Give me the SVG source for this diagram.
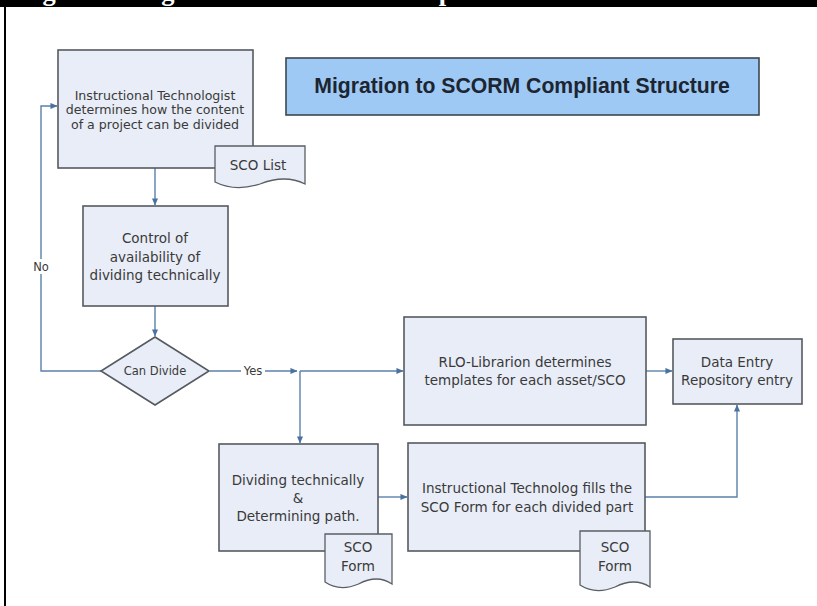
<svg xmlns="http://www.w3.org/2000/svg" width="817" height="606" viewBox="0 0 817 606">
  <style>
    .box { fill: #e8edf7; stroke: #555a60; stroke-width: 1.6; }
    .doc { fill: #e8edf7; stroke: #5a5f66; stroke-width: 1.3; }
    .title-box { fill: #9ec9f4; stroke: #3d4650; stroke-width: 1.6; }
    .lbl { font-family: "DejaVu Sans", Verdana, sans-serif; font-size: 13.5px; fill: #3a3a3a; text-anchor: middle; }
    .tight { font-size: 12.6px; }
    .small { font-size: 11.5px; }
    .title { font-family: "Liberation Sans", Arial, sans-serif; font-size: 21.2px; font-weight: bold; fill: #1c2530; text-anchor: middle; }
    .caption { font-family: "Liberation Serif", "Times New Roman", serif; font-size: 26.5px; font-weight: bold; fill: #ffffff; }
    .conn { fill: none; stroke: #5b80aa; stroke-width: 1.4; }
    .tag { fill: #ffffff; }
  </style>
  <defs>
    <marker id="arrow" viewBox="0 0 8 8" refX="7.5" refY="4" markerWidth="7" markerHeight="7" markerUnits="userSpaceOnUse" orient="auto">
      <path d="M0,0.5 L8,4 L0,7.5 z" fill="#4a72a0"/>
    </marker>
  </defs>

  <!-- page frame with caption bar -->
  <rect x="0" y="0" width="817" height="606" fill="#ffffff"/>
  <rect x="0" y="0" width="817" height="7" fill="#000000"/>
  <rect x="4" y="7" width="2" height="599" fill="#000000"/>
  <text class="caption" x="19" y="-0.5">Figure 1: Migration to SCORM Compliant Structure</text>

  <!-- connectors -->
  <g id="connectors">
    <path class="conn" d="M155,168 V205" marker-end="url(#arrow)"/>
    <path class="conn" d="M155,306 V336" marker-end="url(#arrow)"/>
    <path class="conn" d="M101,371 H41 V106 H57" marker-end="url(#arrow)"/>
    <path class="conn" d="M210,371 H297" marker-end="url(#arrow)"/>
    <path class="conn" d="M300,371 H403" marker-end="url(#arrow)"/>
    <path class="conn" d="M300,371 V443" marker-end="url(#arrow)"/>
    <path class="conn" d="M646,371 H672" marker-end="url(#arrow)"/>
    <path class="conn" d="M378,497 H407" marker-end="url(#arrow)"/>
    <path class="conn" d="M645,497 H737 V405" marker-end="url(#arrow)"/>
    <rect class="tag" x="31" y="259" width="20" height="15"/>
    <text class="lbl small" x="41" y="271">No</text>
    <rect class="tag" x="241" y="364" width="24" height="14"/>
    <text class="lbl small" x="253" y="375">Yes</text>
  </g>

  <!-- heading -->
  <g id="heading">
    <rect class="title-box" x="286" y="58" width="473" height="57"/>
    <text class="title" x="522" y="93">Migration to SCORM Compliant Structure</text>
  </g>

  <g id="determine-division">
    <rect class="box" x="58" y="50" width="195" height="118"/>
    <text class="lbl tight" x="155" y="99.5">Instructional Technologist</text>
    <text class="lbl tight" x="155" y="114">determines how the content</text>
    <text class="lbl tight" x="155" y="128.5">of a project can be divided</text>
  </g>

  <g id="sco-list">
    <path class="doc" d="M215,146 H305 V184 Q285.2,174 260,184 Q234.8,192 215,182 Z"/>
    <text class="lbl" x="258" y="170">SCO List</text>
  </g>

  <g id="control-availability">
    <rect class="box" x="83" y="206" width="145" height="100"/>
    <text class="lbl" x="155" y="243">Control of</text>
    <text class="lbl" x="155" y="262">availability of</text>
    <text class="lbl" x="155" y="280">dividing technically</text>
  </g>

  <g id="can-divide">
    <path class="box" d="M155,337 L209,371 L155,405 L101,371 Z"/>
    <text class="lbl small" x="155" y="375">Can Divide</text>
  </g>

  <g id="rlo-librarian">
    <rect class="box" x="404" y="317" width="242" height="108"/>
    <text class="lbl" x="525" y="367">RLO-Librarion determines</text>
    <text class="lbl" x="525" y="385">templates for each asset/SCO</text>
  </g>

  <g id="data-entry">
    <rect class="box" x="673" y="339" width="129" height="65"/>
    <text class="lbl" x="737" y="367">Data Entry</text>
    <text class="lbl" x="737" y="385">Repository entry</text>
  </g>

  <g id="dividing">
    <rect class="box" x="219" y="444" width="159" height="107"/>
    <text class="lbl" x="298" y="485">Dividing technically</text>
    <text class="lbl" x="298" y="503">&amp;</text>
    <text class="lbl" x="298" y="521">Determining path.</text>
  </g>

  <g id="sco-form-1">
    <path class="doc" d="M325,534 H392 V584 Q377.3,574 358.5,584 Q339.7,592 325,582 Z"/>
    <text class="lbl" x="358" y="552">SCO</text>
    <text class="lbl" x="358" y="571">Form</text>
  </g>

  <g id="fill-form">
    <rect class="box" x="408" y="443" width="237" height="108"/>
    <text class="lbl" x="527" y="493">Instructional Technolog fills the</text>
    <text class="lbl" x="527" y="512">SCO Form for each divided part</text>
  </g>

  <g id="sco-form-2">
    <path class="doc" d="M580,531 H650 V587 Q634.6,577 615,587 Q595.4,595 580,585 Z"/>
    <text class="lbl" x="615" y="552">SCO</text>
    <text class="lbl" x="615" y="571">Form</text>
  </g>
</svg>
